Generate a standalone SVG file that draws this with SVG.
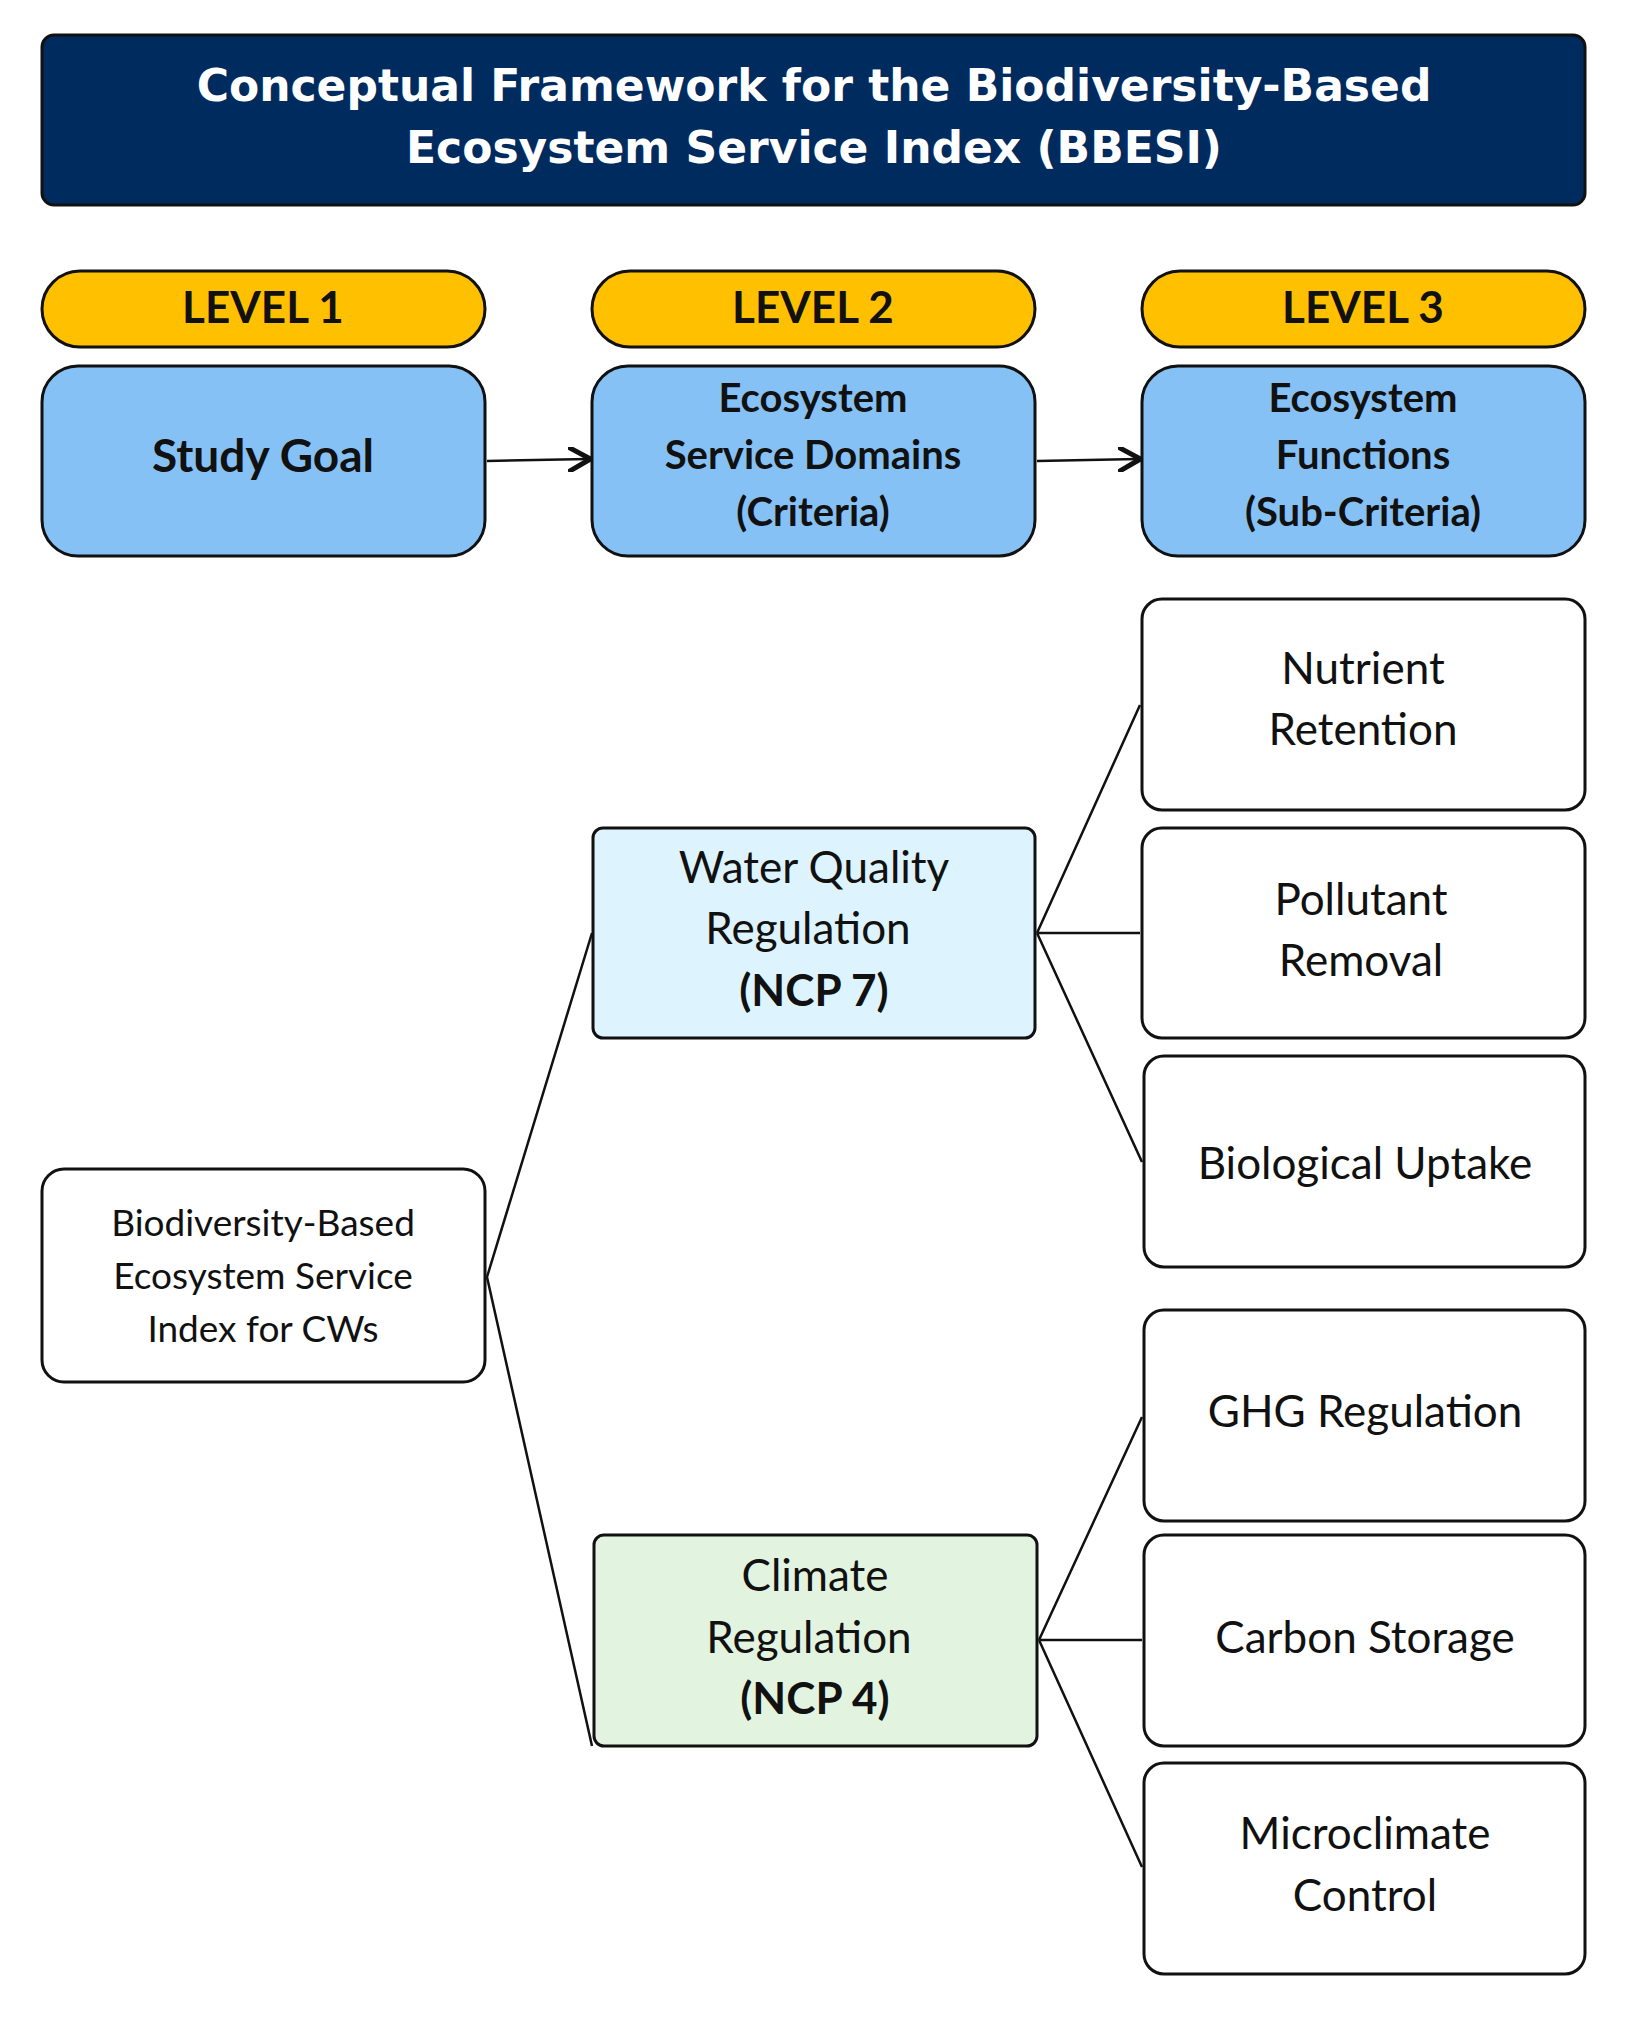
<svg xmlns="http://www.w3.org/2000/svg" width="1630" height="2026" viewBox="0 0 1630 2026">
<style>
.t{font-family:Lato,"Open Sans",sans-serif;fill:#111;text-anchor:middle}
.b{font-weight:bold}
.box{stroke:#111;stroke-width:3}
.ln{stroke:#111;stroke-width:2.5;fill:none}
</style>
<defs><marker id="ah" markerWidth="10" markerHeight="10" refX="8" refY="5" orient="auto" markerUnits="strokeWidth"><path d="M0,0 L9,5 L0,10" fill="none" stroke="#111" stroke-width="2"/></marker></defs>
<rect width="1630" height="2026" fill="#fff"/>
<g id="title"><rect x="42" y="35" width="1543" height="170" rx="12" fill="#002B5F" stroke="#111" stroke-width="3"/>
<text x="814" y="101" font-family="'DejaVu Sans',Verdana,sans-serif" font-weight="bold" font-size="44" fill="#fff" text-anchor="middle">Conceptual Framework for the Biodiversity-Based</text>
<text x="814" y="163" font-family="'DejaVu Sans',Verdana,sans-serif" font-weight="bold" font-size="44" fill="#fff" text-anchor="middle">Ecosystem Service Index (BBESI)</text></g>
<g id="level1"><rect class="box" x="42" y="271" width="443" height="76" rx="38" fill="#FFC000"/><text class="t b" x="263" y="323" font-size="44">LEVEL 1</text></g>
<g id="level2"><rect class="box" x="592" y="271" width="443" height="76" rx="38" fill="#FFC000"/><text class="t b" x="813" y="323" font-size="44">LEVEL 2</text></g>
<g id="level3"><rect class="box" x="1142" y="271" width="443" height="76" rx="38" fill="#FFC000"/><text class="t b" x="1363" y="323" font-size="44">LEVEL 3</text></g>
<g id="goal"><rect class="box" x="42" y="366" width="443" height="190" rx="36" fill="#85C1F5"/><text class="t b" x="263" y="472" font-size="46">Study Goal</text></g>
<g id="domains"><rect class="box" x="592" y="366" width="443" height="190" rx="36" fill="#85C1F5"/>
<text class="t b" x="813" y="412" font-size="40">Ecosystem</text><text class="t b" x="813" y="469" font-size="40">Service Domains</text><text class="t b" x="813" y="526" font-size="40">(Criteria)</text></g>
<g id="functions"><rect class="box" x="1142" y="366" width="443" height="190" rx="36" fill="#85C1F5"/>
<text class="t b" x="1363" y="412" font-size="40">Ecosystem</text><text class="t b" x="1363" y="469" font-size="40">Functions</text><text class="t b" x="1363" y="526" font-size="40">(Sub-Criteria)</text></g>
<g id="index"><rect class="box" x="42" y="1169" width="443" height="213" rx="22" fill="#fff"/>
<text class="t" x="263" y="1236" font-size="37">Biodiversity-Based</text><text class="t" x="263" y="1289" font-size="37">Ecosystem Service</text><text class="t" x="263" y="1342" font-size="37">Index for CWs</text></g>
<g id="water"><rect class="box" x="593" y="828" width="442" height="210" rx="10" fill="#DDF3FD"/>
<text class="t" x="814" y="883" font-size="44">Water Quality</text><text class="t" x="808" y="944" font-size="44">Regulation</text><text class="t b" x="814" y="1006" font-size="44">(NCP 7)</text></g>
<g id="climate"><rect class="box" x="594" y="1535" width="443" height="211" rx="10" fill="#E2F4E0"/>
<text class="t" x="815" y="1591" font-size="44">Climate</text><text class="t" x="809" y="1653" font-size="44">Regulation</text><text class="t b" x="815" y="1714" font-size="44">(NCP 4)</text></g>
<g id="nutrient"><rect class="box" x="1142" y="599" width="443" height="211" rx="20" fill="#fff"/><text class="t" x="1363" y="684" font-size="44">Nutrient</text><text class="t" x="1363" y="745" font-size="44">Retention</text></g>
<g id="pollutant"><rect class="box" x="1142" y="828" width="443" height="210" rx="20" fill="#fff"/><text class="t" x="1361" y="915" font-size="44">Pollutant</text><text class="t" x="1361" y="976" font-size="44">Removal</text></g>
<g id="biological"><rect class="box" x="1144" y="1056" width="441" height="211" rx="20" fill="#fff"/><text class="t" x="1365" y="1179" font-size="44">Biological Uptake</text></g>
<g id="ghg"><rect class="box" x="1144" y="1310" width="441" height="211" rx="20" fill="#fff"/><text class="t" x="1365" y="1427" font-size="44">GHG Regulation</text></g>
<g id="carbon"><rect class="box" x="1144" y="1535" width="441" height="211" rx="20" fill="#fff"/><text class="t" x="1365" y="1653" font-size="44">Carbon Storage</text></g>
<g id="micro"><rect class="box" x="1144" y="1763" width="441" height="211" rx="20" fill="#fff"/><text class="t" x="1365" y="1849" font-size="44">Microclimate</text><text class="t" x="1365" y="1911" font-size="44">Control</text></g>
<g id="connectors">
<line class="ln" x1="487" y1="461" x2="588" y2="459" stroke-width="5" marker-end="url(#ah)"/>
<line class="ln" x1="1037" y1="461" x2="1138" y2="459" stroke-width="5" marker-end="url(#ah)"/>
<path class="ln" d="M487,1277 L592,933 M487,1277 L592,1746"/>
<path class="ln" d="M1037,933 L1140,705 M1037,933 L1140,933 M1037,933 L1142,1162"/>
<path class="ln" d="M1039,1640 L1142,1417 M1039,1640 L1142,1640 M1039,1640 L1142,1867"/>
</g>
</svg>
